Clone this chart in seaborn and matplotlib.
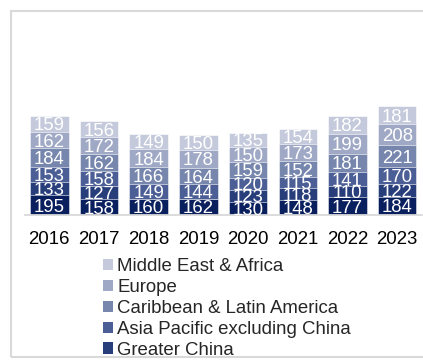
import numpy as np
import matplotlib
matplotlib.use("Agg")
import matplotlib.pyplot as plt
from matplotlib.patches import Rectangle, Patch
import seaborn as sns

# Yearly values per region, stacked bottom to top
years = ["2016", "2017", "2018", "2019", "2020", "2021", "2022", "2023"]
north_america = [195, 158, 160, 162, 130, 148, 177, 184]
greater_china = [133, 127, np.nan, np.nan, 123, 118, 110, 122]
asia_pacific = [153, 158, 149, 144, 120, 115, 141, 170]
caribbean_latam = [184, 162, 166, 164, 159, 152, 181, 221]
europe = [162, 172, 184, 178, 150, 173, 199, 208]
middle_east_africa = [159, 156, 149, 150, 135, 154, 182, 181]

series_names = ["North America", "Greater China", "Asia Pacific excluding China",
                "Caribbean & Latin America", "Europe", "Middle East & Africa"]
series_values = [north_america, greater_china, asia_pacific,
                 caribbean_latam, europe, middle_east_africa]
colors = ["#0a1f5e", "#283e7b", "#4b5e95", "#7686ad", "#9fa9c6", "#c4cadc"]

sns.set_style("white")
plt.rcParams["font.family"] = ["Liberation Sans", "DejaVu Sans"]

W, H = 423, 360
fig = plt.figure(figsize=(W / 100, H / 100), dpi=100)

# plot area in pixel terms
ax_left, ax_right = 24.5, 422.0
ax_base, ax_top = 215.0, 20.0
px_per_unit = 0.1004
ax = fig.add_axes([ax_left / W, (H - ax_base) / H,
                   (ax_right - ax_left) / W, (ax_base - ax_top) / H])
ymax = (ax_base - ax_top) / px_per_unit

vals = np.nan_to_num(np.array(series_values, dtype=float))
cum = np.cumsum(vals, axis=0)

# draw cumulative totals from the top series down so each layer shows one segment
for k in range(len(series_names) - 1, -1, -1):
    sns.barplot(x=years, y=cum[k], order=years, color=colors[k], width=0.775,
                saturation=1, edgecolor="white", linewidth=0.4, ax=ax)

# value labels centred in each segment
for k, vlist in enumerate(series_values):
    for i, v in enumerate(vlist):
        if v is None or np.isnan(v):
            continue
        bottom = cum[k][i] - v
        ax.text(i, bottom + v / 2, f"{int(v)}", ha="center", va="center_baseline",
                color="white", fontsize=13.4)

ax.set_xlim(-0.5, len(years) - 0.5)
ax.set_ylim(0, ymax)
ax.set_yticks([])
ax.set_xlabel("")
ax.set_ylabel("")
for side in ["top", "right", "left"]:
    ax.spines[side].set_visible(False)
ax.spines["bottom"].set_color("#d9d9d9")
ax.spines["bottom"].set_linewidth(1.3)
ax.tick_params(axis="x", length=0, pad=11.5, labelsize=13.4, labelcolor="black")

# outer chart border
fig.patches.append(Rectangle((10.5 / W, (H - 357) / H), (W + 20) / W, (357 - 10.5) / H,
                             transform=fig.transFigure, fill=False,
                             edgecolor="#d9d9d9", linewidth=1.5, zorder=0))

# legend lists the upper series first
handles = [Patch(facecolor=colors[k], edgecolor="none") for k in range(len(series_names) - 1, 0, -1)]
labels = [series_names[k] for k in range(len(series_names) - 1, 0, -1)]
fig.legend(handles, labels, loc="upper left", bbox_to_anchor=(103 / W, 1 - 258 / H),
           frameon=False, fontsize=13.4, handlelength=0.55, handleheight=0.55,
           handletextpad=0.22, labelspacing=0.21, borderpad=0, borderaxespad=0)

fig.savefig("out.png", dpi=100)
